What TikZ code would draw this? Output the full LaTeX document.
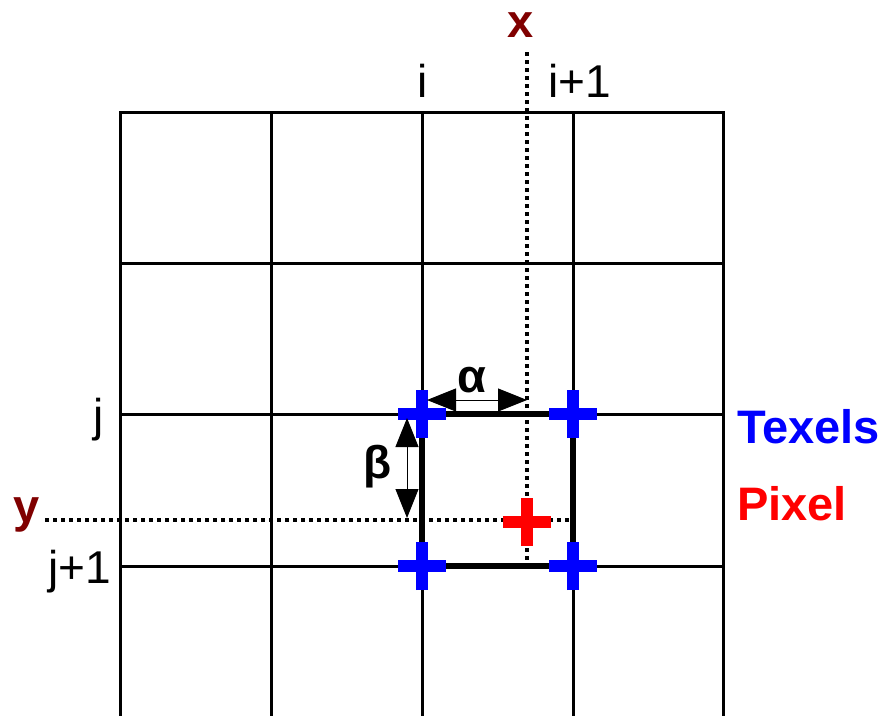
\documentclass[tikz,border=0pt]{standalone}
\usepackage{fontspec}
\setmainfont{Liberation Sans}
\usetikzlibrary{arrows.meta}
\definecolor{xred}{RGB}{128,0,0}
\definecolor{tblue}{RGB}{0,0,255}
\definecolor{pred}{RGB}{255,0,0}
\begin{document}
\begin{tikzpicture}[x=1pt,y=-1pt,
  gridline/.style={line width=3pt,line cap=rect},
  cellbox/.style={line width=6pt},
  dotline/.style={line width=4pt,dash pattern=on 4pt off 4pt},
  crossmark/.style={line width=12pt},
  measure/.style={line width=1pt,{Triangle[length=29pt,width=23pt]}-{Triangle[length=29pt,width=23pt]}},
  lab/.style={inner sep=0pt,font=\fontsize{46}{50}\selectfont},
  blab/.style={inner sep=0pt,font=\fontsize{47}{50}\selectfont\bfseries}]
\useasboundingbox (0,0) rectangle (888,715);
% grid
\foreach \x in {120,271,422,573,723}{\draw[gridline] (\x,112) -- (\x,715);}
\foreach \y in {112,263,414,566}{\draw[gridline] (120,\y) -- (723,\y);}
% texel corners
\coordinate (t1) at (422,414);
\coordinate (t2) at (573,414);
\coordinate (t3) at (422,566);
\coordinate (t4) at (573,566);
\coordinate (px) at (527,522);
\draw[cellbox] (t1) -- (t2) -- (t4) -- (t3) -- cycle;
% dotted lines
\coordinate (xtop) at (527,52);
\coordinate (xbot) at (527,566);
\coordinate (yl) at (45,520);
\coordinate (yr) at (573,520);
\draw[dotline] (xtop) -- (xbot);
\draw[dotline] (yl) -- (yr);
% crosses
\foreach \c in {t1,t2,t3,t4}{
  \draw[crossmark,tblue] ([xshift=-24pt]\c) -- ([xshift=24pt]\c);
  \draw[crossmark,tblue] ([yshift=-24pt]\c) -- ([yshift=24pt]\c);}
\draw[crossmark,pred] ([xshift=-24pt]px) -- ([xshift=24pt]px);
\draw[crossmark,pred] ([yshift=-24pt]px) -- ([yshift=24pt]px);
% measures
\coordinate (a1) at (427,400);
\coordinate (a2) at (527,400);
\coordinate (b1) at (407,418);
\coordinate (b2) at (407,518);
\draw[measure] (a1) -- (a2);
\draw[measure] (b1) -- (b2);
\node[blab] (alpha) at (472,380) {α};
\node[lab,font=\fontsize{46}{50}\selectfont\bfseries] (beta) at (378,467) {β};
% labels
\node[blab,text=xred,anchor=base] (xl) at (521,37) {x};
\node[blab,text=xred,anchor=base] (ylab) at (27,522) {y};
\node[lab,anchor=base] (il) at (423,97) {i};
\node[lab,anchor=base west] (i1l) at (548,97) {i+1};
\node[lab,anchor=base east] (jl) at (104,431) {j};
\node[lab,anchor=base east] (j1l) at (111,583) {j+1};
\node[blab,text=tblue,anchor=base west] (tex) at (737,443) {Texels};
\node[blab,text=pred,anchor=base west] (pix) at (737,520) {Pixel};
\end{tikzpicture}
\end{document}
